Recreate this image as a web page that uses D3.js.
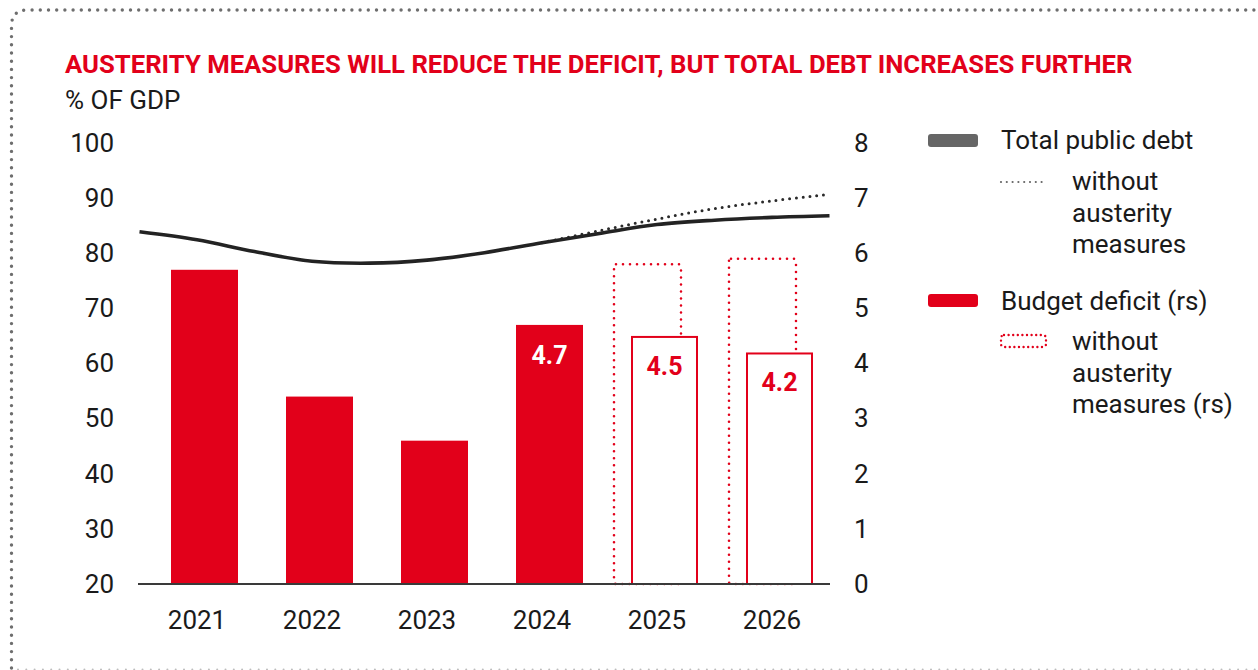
<!DOCTYPE html>
<html>
<head>
<meta charset="utf-8">
<script src="https://cdn.jsdelivr.net/npm/d3@7"></script>
<style>
  html, body { margin: 0; padding: 0; background: #fff; }
  svg { display: block; font-family: Roboto, "Noto Sans", sans-serif; }
</style>
</head>
<body>
<svg id="chart" width="1258" height="670"></svg>
<script>
// ---- data -------------------------------------------------------------
const years = ["2021", "2022", "2023", "2024", "2025", "2026"];
// budget deficit, % of GDP (right scale)
const deficit = [5.7, 3.4, 2.6, 4.7, 4.5, 4.2];
// deficit without austerity measures (forecast years only)
const deficitNoAusterityYears = ["2025", "2026"];
const deficitNoAusterity = [5.8, 5.9];
// value labels shown on bars
const labelledYears = ["2024", "2025", "2026"];
// total public debt, % of GDP (left scale), half-year readings
const debtT = [2020.5, 2021, 2021.5, 2022, 2022.5, 2023, 2023.5, 2024, 2024.5, 2025, 2025.5, 2026, 2026.5];
const debt  = [83.9, 82.45, 80.3, 78.55, 78.2, 78.75, 80.1, 81.9, 83.6, 85.2, 86.0, 86.5, 86.8];
// debt without austerity measures, from 2024 onward
const debtNoAustT = [2024, 2024.5, 2025, 2025.5, 2026, 2026.5];
const debtNoAust  = [81.9, 84.1, 86.2, 88.1, 89.5, 90.7];
const leftTicks  = [20, 30, 40, 50, 60, 70, 80, 90, 100];
const rightTicks = [0, 1, 2, 3, 4, 5, 6, 7, 8];

const title = "AUSTERITY MEASURES WILL REDUCE THE DEFICIT, BUT TOTAL DEBT INCREASES FURTHER";
const subtitle = "% OF GDP";

// ---- styles -----------------------------------------------------------
const RED = "#e2001a";
const INK = "#1a1a1a";
const LINE = "#232323";
const FS = 26;

const svg = d3.select("#chart");

// ---- frame (dotted border) --------------------------------------------
svg.append("path")
  .attr("d", "M11.5,668 V26 Q11.5,10 27.5,10 H1275")
  .attr("fill", "none")
  .attr("stroke", "#6e6e6e")
  .attr("stroke-width", 3.4)
  .attr("stroke-linecap", "round")
  .attr("stroke-dasharray", "0 8.2");
svg.append("line")
  .attr("x1", 18).attr("x2", 1258).attr("y1", 669.5).attr("y2", 669.5)
  .attr("stroke", "#bdbdbd")
  .attr("stroke-width", 2)
  .attr("stroke-linecap", "round")
  .attr("stroke-dasharray", "0 8.3");

// ---- titles -----------------------------------------------------------
svg.append("text")
  .attr("x", 65).attr("y", 73)
  .attr("fill", RED)
  .attr("font-size", 25.7)
  .attr("font-weight", 700)
  .text(title);
svg.append("text")
  .attr("x", 65).attr("y", 109)
  .attr("fill", INK)
  .attr("font-size", FS)
  .text(subtitle);

// ---- scales -----------------------------------------------------------
const plotL = 139.5, plotR = 829.5, plotB = 584, plotT = 143;
const x = d3.scaleBand().domain(years).range([plotL, plotR]);
const xt = d3.scaleLinear().domain([2020.5, 2026.5]).range([plotL, plotR]);
const yL = d3.scaleLinear().domain([20, 100]).range([plotB, plotT]);
const yR = d3.scaleLinear().domain([0, 8]).range([plotB, plotT]);

const barW = 67, barOff = 31.5, ghostOff = 14.5;

// ---- bars -------------------------------------------------------------
const ghost = deficitNoAusterityYears.map((y, i) => ({ year: y, v: deficitNoAusterity[i] }));
svg.append("g").selectAll("rect").data(ghost).join("rect")
  .attr("x", d => x(d.year) + ghostOff)
  .attr("y", d => yR(d.v))
  .attr("width", barW)
  .attr("height", d => yR(0) - yR(d.v))
  .attr("rx", 2)
  .attr("fill", "none")
  .attr("stroke", RED)
  .attr("stroke-width", 2.6)
  .attr("stroke-linecap", "round")
  .attr("stroke-dasharray", "0 7");

const bars = years.map((y, i) => ({ year: y, v: deficit[i], forecast: deficitNoAusterityYears.includes(y) }));
svg.append("g").selectAll("rect").data(bars).join("rect")
  .attr("x", d => x(d.year) + barOff + (d.forecast ? 1 : 0))
  .attr("y", d => yR(d.v) + (d.forecast ? 1 : 0))
  .attr("width", d => barW - (d.forecast ? 2 : 0))
  .attr("height", d => yR(0) - yR(d.v) - (d.forecast ? 1 : 0))
  .attr("fill", d => d.forecast ? "#fff" : RED)
  .attr("stroke", d => d.forecast ? RED : "none")
  .attr("stroke-width", 2);

svg.append("g").selectAll("text").data(bars.filter(d => labelledYears.includes(d.year))).join("text")
  .attr("x", d => x(d.year) + barOff + barW / 2)
  .attr("y", d => yR(d.v) + 39)
  .attr("text-anchor", "middle")
  .attr("font-size", 25)
  .attr("font-weight", 700)
  .attr("fill", d => d.forecast ? RED : "#fff")
  .text(d => d.v.toFixed(1));

// ---- debt lines -------------------------------------------------------
const line = d3.line().x(d => xt(d[0])).y(d => yL(d[1])).curve(d3.curveCatmullRom.alpha(0.5));
svg.append("path")
  .attr("d", line(debtNoAustT.map((t, i) => [t, debtNoAust[i]])))
  .attr("fill", "none")
  .attr("stroke", "#2a2a2a")
  .attr("stroke-width", 3)
  .attr("stroke-linecap", "round")
  .attr("stroke-dasharray", "0 6.8");
svg.append("path")
  .attr("d", line(debtT.map((t, i) => [t, debt[i]])))
  .attr("fill", "none")
  .attr("stroke", LINE)
  .attr("stroke-width", 3.6);

// ---- axes -------------------------------------------------------------
svg.append("line")
  .attr("x1", plotL - 1.5).attr("x2", plotR + 0.5)
  .attr("y1", plotB).attr("y2", plotB)
  .attr("stroke", "#3a3a3a").attr("stroke-width", 2);

function styleAxis(g) {
  g.select(".domain").remove();
  g.selectAll("text").attr("font-size", FS).attr("fill", INK).attr("font-family", "Roboto, sans-serif");
}
svg.append("g").attr("transform", `translate(${plotL},0)`)
  .call(d3.axisLeft(yL).tickValues(leftTicks).tickSize(0).tickPadding(25.5).tickFormat(d3.format("d")))
  .call(styleAxis);
svg.append("g").attr("transform", `translate(${plotR},0)`)
  .call(d3.axisRight(yR).tickValues(rightTicks).tickSize(0).tickPadding(24.5).tickFormat(d3.format("d")))
  .call(styleAxis);
svg.append("g").attr("transform", `translate(0,${plotB})`)
  .call(d3.axisBottom(x).tickSize(0).tickPadding(26.5))
  .call(styleAxis);

// ---- legend -----------------------------------------------------------
const lg = svg.append("g").attr("font-size", FS).attr("fill", INK);
lg.append("rect").attr("x", 928).attr("y", 134).attr("width", 50).attr("height", 13).attr("rx", 3).attr("fill", "#666");
lg.append("text").attr("x", 1001).attr("y", 149).text("Total public debt");
lg.append("line").attr("x1", 1001).attr("x2", 1042).attr("y1", 182).attr("y2", 182)
  .attr("stroke", "#666").attr("stroke-width", 2.2).attr("stroke-linecap", "round").attr("stroke-dasharray", "0 5.8");
["without", "austerity", "measures"].forEach((t, i) =>
  lg.append("text").attr("x", 1072).attr("y", 190 + i * 31.5).text(t));

lg.append("rect").attr("x", 928).attr("y", 294).attr("width", 50).attr("height", 13).attr("rx", 3).attr("fill", RED);
lg.append("text").attr("x", 1001).attr("y", 310).text("Budget deficit (rs)");
lg.append("rect").attr("x", 1001).attr("y", 335).attr("width", 45).attr("height", 12).attr("rx", 3)
  .attr("fill", "none").attr("stroke", RED).attr("stroke-width", 2.4).attr("stroke-linecap", "round").attr("stroke-dasharray", "0 4.6");
["without", "austerity", "measures (rs)"].forEach((t, i) =>
  lg.append("text").attr("x", 1072).attr("y", 350 + i * 31.5).text(t));
</script>
</body>
</html>
